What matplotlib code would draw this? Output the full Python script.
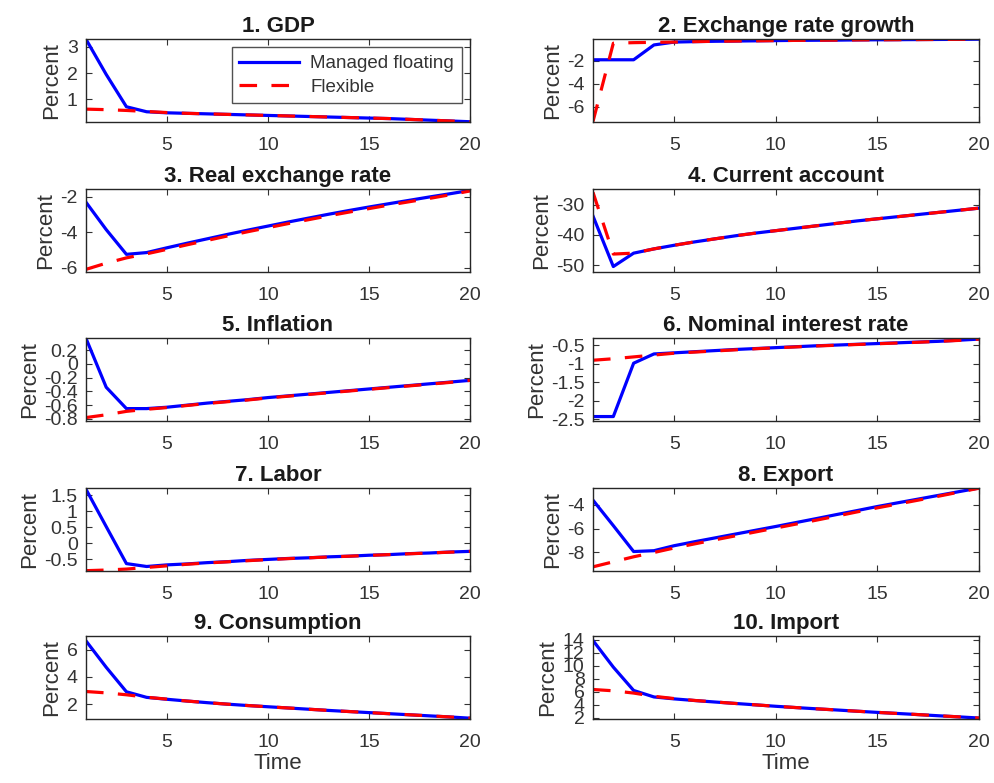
import matplotlib
matplotlib.use("Agg")
import matplotlib.pyplot as plt
from matplotlib.ticker import FuncFormatter

plt.rcParams['font.family'] = ['Liberation Sans', 'DejaVu Sans']
plt.rcParams['axes.unicode_minus'] = False

periods = list(range(1, 21))

titles = ["1. GDP", "2. Exchange rate growth", "3. Real exchange rate",
          "4. Current account", "5. Inflation", "6. Nominal interest rate",
          "7. Labor", "8. Export", "9. Consumption", "10. Import"]

series_names = ["Managed floating", "Flexible"]

gdp_managed = [3.29, 1.95, 0.72, 0.53, 0.49, 0.47, 0.45, 0.43, 0.41, 0.39,
               0.37, 0.35, 0.33, 0.31, 0.29, 0.27, 0.24, 0.21, 0.18, 0.15]
gdp_flexible = [0.63, 0.61, 0.58, 0.54, 0.50, 0.47, 0.45, 0.43, 0.41, 0.39,
                0.37, 0.35, 0.33, 0.31, 0.29, 0.27, 0.24, 0.21, 0.18, 0.14]

exg_managed = [-1.9, -1.9, -1.9, -0.6, -0.35, -0.31, -0.28, -0.26, -0.24, -0.22,
               -0.2, -0.19, -0.18, -0.16, -0.15, -0.14, -0.13, -0.12, -0.11, -0.1]
exg_flexible = [-7.3, -0.45, -0.4, -0.37, -0.35, -0.31, -0.28, -0.26, -0.24, -0.22,
                -0.2, -0.19, -0.18, -0.16, -0.15, -0.14, -0.13, -0.12, -0.11, -0.1]

rer_managed = [-2.3, -3.85, -5.25, -5.15, -4.88, -4.62, -4.37, -4.12, -3.88, -3.65,
               -3.42, -3.2, -2.98, -2.77, -2.57, -2.38, -2.19, -2.0, -1.82, -1.63]
rer_flexible = [-6.1, -5.75, -5.45, -5.22, -4.97, -4.71, -4.46, -4.21, -3.97, -3.74,
                -3.51, -3.29, -3.07, -2.86, -2.66, -2.46, -2.27, -2.08, -1.88, -1.66]

ca_managed = [-33.8, -50.4, -46.0, -44.6, -43.4, -42.3, -41.3, -40.3, -39.4, -38.6,
              -37.8, -37.0, -36.2, -35.4, -34.7, -34.0, -33.3, -32.6, -31.9, -31.2]
ca_flexible = [-26.0, -46.3, -46.0, -44.6, -43.4, -42.3, -41.3, -40.3, -39.4, -38.6,
               -37.8, -37.0, -36.2, -35.4, -34.7, -34.0, -33.3, -32.6, -31.9, -31.2]

inf_managed = [0.37, -0.34, -0.65, -0.65, -0.63, -0.60, -0.57, -0.545, -0.52, -0.49,
               -0.465, -0.44, -0.415, -0.39, -0.365, -0.34, -0.315, -0.29, -0.265, -0.24]
inf_flexible = [-0.78, -0.74, -0.69, -0.66, -0.635, -0.605, -0.575, -0.55, -0.525, -0.495,
                -0.47, -0.445, -0.42, -0.395, -0.37, -0.345, -0.32, -0.295, -0.27, -0.24]

nir_managed = [-2.43, -2.43, -0.99, -0.74, -0.71, -0.68, -0.65, -0.62, -0.595, -0.57,
               -0.545, -0.52, -0.5, -0.48, -0.46, -0.44, -0.42, -0.4, -0.37, -0.34]
nir_flexible = [-0.91, -0.87, -0.82, -0.77, -0.72, -0.69, -0.66, -0.63, -0.6, -0.575,
                -0.55, -0.525, -0.505, -0.485, -0.465, -0.445, -0.425, -0.4, -0.375, -0.34]

lab_managed = [1.68, 0.52, -0.63, -0.72, -0.67, -0.64, -0.6, -0.57, -0.53, -0.5,
               -0.47, -0.45, -0.42, -0.4, -0.37, -0.35, -0.32, -0.3, -0.27, -0.25]
lab_flexible = [-0.85, -0.83, -0.8, -0.75, -0.7, -0.65, -0.61, -0.575, -0.54, -0.505,
                -0.475, -0.45, -0.425, -0.4, -0.375, -0.35, -0.325, -0.3, -0.275, -0.25]

exp_managed = [-3.62, -5.75, -7.92, -7.85, -7.43, -7.1, -6.78, -6.46, -6.14, -5.82,
               -5.49, -5.16, -4.82, -4.49, -4.15, -3.84, -3.53, -3.22, -2.91, -2.6]
exp_flexible = [-9.2, -8.78, -8.36, -8.0, -7.62, -7.28, -6.94, -6.61, -6.28, -5.95,
                -5.62, -5.29, -4.95, -4.6, -4.26, -3.94, -3.62, -3.29, -2.95, -2.62]

con_managed = [6.64, 4.7, 2.9, 2.49, 2.35, 2.22, 2.1, 1.99, 1.89, 1.8,
               1.71, 1.62, 1.53, 1.45, 1.37, 1.29, 1.21, 1.13, 1.05, 0.96]
con_flexible = [2.92, 2.82, 2.68, 2.5, 2.36, 2.22, 2.1, 1.99, 1.89, 1.8,
                1.71, 1.62, 1.53, 1.45, 1.37, 1.29, 1.21, 1.13, 1.05, 0.96]

imp_managed = [13.9, 9.8, 6.2, 5.2, 4.9, 4.65, 4.42, 4.2, 3.98, 3.76,
               3.56, 3.37, 3.19, 3.0, 2.82, 2.65, 2.48, 2.3, 2.13, 1.95]
imp_flexible = [6.35, 6.15, 5.8, 5.3, 4.95, 4.66, 4.43, 4.2, 3.98, 3.76,
                3.56, 3.37, 3.19, 3.0, 2.82, 2.65, 2.48, 2.3, 2.13, 1.95]

managed = [gdp_managed, exg_managed, rer_managed, ca_managed, inf_managed,
           nir_managed, lab_managed, exp_managed, con_managed, imp_managed]
flexible = [gdp_flexible, exg_flexible, rer_flexible, ca_flexible, inf_flexible,
            nir_flexible, lab_flexible, exp_flexible, con_flexible, imp_flexible]

ylims = [(0.14, 3.3), (-7.35, -0.08), (-6.25, -1.55), (-52.2, -24.9), (-0.83, 0.375),
         (-2.55, -0.31), (-0.86, 1.72), (-9.55, -2.6), (0.9, 7.0), (1.8, 14.6)]
yticks = [[1, 2, 3], [-6, -4, -2], [-6, -4, -2], [-50, -40, -30],
          [-0.8, -0.6, -0.4, -0.2, 0, 0.2], [-2.5, -2, -1.5, -1, -0.5],
          [-0.5, 0, 0.5, 1, 1.5], [-8, -6, -4], [2, 4, 6],
          [2, 4, 6, 8, 10, 12, 14]]
xticks = [5, 10, 15, 20]

W, H = 995, 783
fig = plt.figure(figsize=(W / 100, H / 100), dpi=100)

col_left = [86, 593]
col_width = [384, 386]
row_top = [39, 189, 338, 488, 636]
ax_h = 83

fmt = FuncFormatter(lambda v, p: ('%g' % round(v, 6)))
txtcol = '#333333'

for i in range(10):
    r, c = divmod(i, 2)
    left = col_left[c] / W
    bottom = 1 - (row_top[r] + ax_h) / H
    ax = fig.add_axes([left, bottom, col_width[c] / W, ax_h / H])
    l1, = ax.plot(periods, managed[i], color='#0000ff', lw=2.3, solid_joinstyle='round')
    l2, = ax.plot(periods, flexible[i], color='#ff0000', lw=2.3, dashes=(5.5, 4.5))
    ax.set_xlim(1, 20)
    ax.set_ylim(*ylims[i])
    ax.set_xticks(xticks)
    ax.set_yticks(yticks[i])
    ax.yaxis.set_major_formatter(fmt)
    ax.tick_params(direction='in', length=4, width=0.8, top=True, right=True,
                   labelsize=14, colors=txtcol)
    ax.tick_params(axis='x', pad=11)
    ax.tick_params(axis='y', pad=6)
    for s in ax.spines.values():
        s.set_linewidth(1.0)
        s.set_color('#262626')
    ax.set_title(titles[i], fontsize=16, fontweight='bold', pad=5, color='#1a1a1a')
    ax.set_ylabel('Percent', fontsize=16, color=txtcol, labelpad=3)
    if r == 4:
        ax.set_xlabel('Time', fontsize=16, color=txtcol, labelpad=1)
    if i == 0:
        leg = ax.legend([l1, l2], series_names, loc='upper right', fontsize=13.5,
                        handlelength=3.2, frameon=True, fancybox=False,
                        borderaxespad=0.45, labelspacing=0.35, handletextpad=0.6,
                        borderpad=0.4)
        leg.get_frame().set_edgecolor('#262626')
        leg.get_frame().set_linewidth(1.0)
        for t in leg.get_texts():
            t.set_color(txtcol)

fig.savefig('out.png', dpi=100)
